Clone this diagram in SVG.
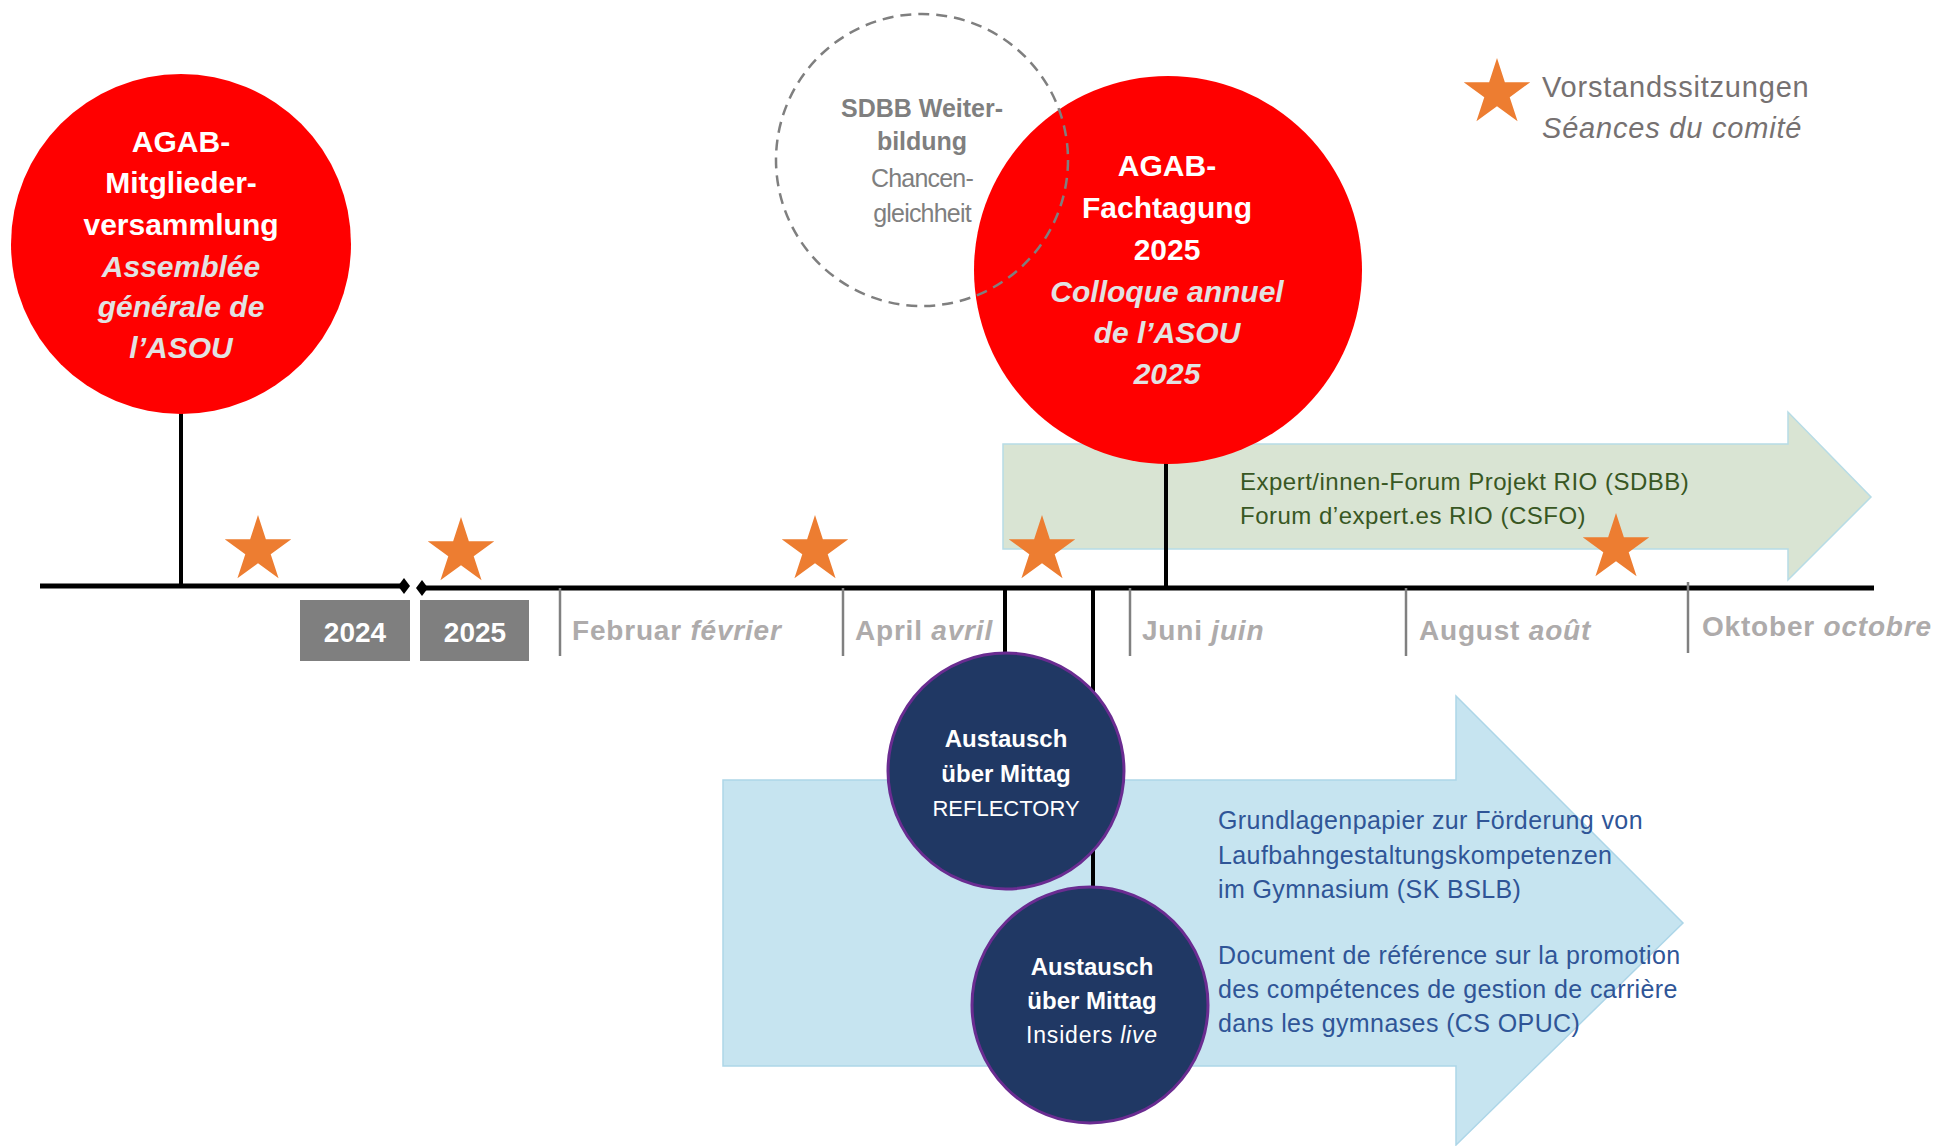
<svg xmlns="http://www.w3.org/2000/svg" width="1943" height="1146" viewBox="0 0 1943 1146">
<style>
text{font-family:"Liberation Sans",Arial,sans-serif}
.red{fill:#FF0000}
.wb{fill:#FFFFFF;font-weight:bold;font-size:30px;text-anchor:middle}
.wi{fill:#E2E2E2;font-weight:bold;font-style:italic;font-size:30px;text-anchor:middle}
.navy{fill:#203864;stroke:#6A2C91;stroke-width:3}
.nb{fill:#FFFFFF;font-weight:bold;font-size:24px;text-anchor:middle}
.nr{fill:#FFFFFF;font-size:22px;text-anchor:middle}
.stem{stroke:#000000;stroke-width:4;fill:none}
.tick{stroke:#808080;stroke-width:2.5}
.month{fill:#AEABAB;font-weight:bold;font-size:28px;letter-spacing:0.8px}
.year{fill:#7F7F7F}
.yt{fill:#FFFFFF;font-weight:bold;font-size:28px;text-anchor:middle}
.star{fill:#ED7D31}
.green{fill:#D9E4D3;stroke:#B7DCE6;stroke-width:1.5}
.gt{fill:#385723;font-size:24px;letter-spacing:0.5px}
.blue{fill:#C6E4F0;stroke:#ADD6E8;stroke-width:1.5}
.bt{fill:#2F5597;font-size:25px;letter-spacing:0.4px}
.leg{fill:#767171;font-size:29px;letter-spacing:0.8px}
.sd{fill:#7F7F7F;font-weight:bold;font-size:25px;text-anchor:middle}
.sl{fill:#7F7F7F;font-size:25px;text-anchor:middle;letter-spacing:-0.8px}
</style>
<defs>
<path id="star" d="M0,-35 L7.87,-10.83 L33.29,-10.82 L12.72,4.14 L20.57,28.32 L0,13.37 L-20.57,28.32 L-12.72,4.14 L-33.29,-10.82 L-7.87,-10.83 Z"/>
</defs>

<!-- arrows (background bands) -->
<g id="rio-arrow">
<polygon class="green" points="1003,444 1788,444 1788,412 1871,497 1788,580 1788,549 1003,549"/>
<text class="gt" x="1240" y="490">Expert/innen-Forum Projekt RIO (SDBB)</text>
<text class="gt" x="1240" y="524">Forum d’expert.es RIO (CSFO)</text>
</g>
<g id="bslb-arrow">
<polygon class="blue" points="723,780 1456,780 1456,696 1683,923 1456,1145 1456,1066 723,1066"/>
<text class="bt" x="1218" y="829">Grundlagenpapier zur Förderung von</text>
<text class="bt" x="1218" y="864">Laufbahngestaltungskompetenzen</text>
<text class="bt" x="1218" y="898">im Gymnasium (SK BSLB)</text>
<text class="bt" x="1218" y="964">Document de référence sur la promotion</text>
<text class="bt" x="1218" y="998">des compétences de gestion de carrière</text>
<text class="bt" x="1218" y="1032">dans les gymnases (CS OPUC)</text>
</g>

<!-- connectors: timeline, stems, ticks -->
<g id="connectors">
<line x1="40" y1="586" x2="404" y2="586" stroke="#000" stroke-width="5"/>
<line x1="422" y1="588" x2="1874" y2="588" stroke="#000" stroke-width="5"/>
<polygon points="404,578 410,586 404,594 398,586" fill="#000"/>
<polygon points="422,580 428,588 422,596 416,588" fill="#000"/>
<line class="stem" x1="181" y1="410" x2="181" y2="586"/>
<line class="stem" x1="1166" y1="460" x2="1166" y2="588"/>
<line class="stem" x1="1005" y1="588" x2="1005" y2="660"/>
<line class="stem" x1="1093" y1="588" x2="1093" y2="895"/>
<line class="tick" x1="560" y1="588" x2="560" y2="656"/>
<line class="tick" x1="843" y1="588" x2="843" y2="656"/>
<line class="tick" x1="1130" y1="588" x2="1130" y2="656"/>
<line class="tick" x1="1406" y1="588" x2="1406" y2="656"/>
<line class="tick" x1="1688" y1="582" x2="1688" y2="653"/>
</g>

<!-- year labels -->
<g id="year-2024">
<rect class="year" x="300" y="600" width="110" height="61"/>
<text class="yt" x="355" y="642">2024</text>
</g>
<g id="year-2025">
<rect class="year" x="420" y="600" width="109" height="61"/>
<text class="yt" x="475" y="642">2025</text>
</g>

<!-- month labels -->
<g id="months">
<text class="month" x="572" y="640">Februar <tspan font-style="italic">février</tspan></text>
<text class="month" x="855" y="640">April <tspan font-style="italic">avril</tspan></text>
<text class="month" x="1142" y="640">Juni <tspan font-style="italic">juin</tspan></text>
<text class="month" x="1419" y="640">August <tspan font-style="italic">août</tspan></text>
<text class="month" x="1702" y="636">Oktober <tspan font-style="italic">octobre</tspan></text>
</g>

<!-- Mitgliederversammlung -->
<g id="agab-mv">
<circle class="red" cx="181" cy="244" r="170"/>
<text class="wb" x="181" y="152">AGAB-</text>
<text class="wb" x="181" y="193">Mitglieder-</text>
<text class="wb" x="181" y="235">versammlung</text>
<text class="wi" x="181" y="277">Assemblée</text>
<text class="wi" x="181" y="317">générale de</text>
<text class="wi" x="181" y="358">l’ASOU</text>
</g>

<!-- Fachtagung -->
<g id="agab-fachtagung">
<circle class="red" cx="1168" cy="270" r="194"/>
<text class="wb" x="1167" y="176">AGAB-</text>
<text class="wb" x="1167" y="218">Fachtagung</text>
<text class="wb" x="1167" y="260">2025</text>
<text class="wi" x="1167" y="302">Colloque annuel</text>
<text class="wi" x="1167" y="343">de l’ASOU</text>
<text class="wi" x="1167" y="384">2025</text>
</g>

<!-- SDBB Weiterbildung -->
<g id="sdbb">
<circle cx="922" cy="160" r="146" fill="none" stroke="#7F7F7F" stroke-width="2.5" stroke-dasharray="11 7"/>
<text class="sd" x="922" y="117">SDBB Weiter-</text>
<text class="sd" x="922" y="150">bildung</text>
<text class="sl" x="922" y="187">Chancen-</text>
<text class="sl" x="922" y="222">gleichheit</text>
</g>

<!-- Austausch über Mittag -->
<g id="reflectory">
<circle class="navy" cx="1006" cy="771" r="118"/>
<text class="nb" x="1006" y="747">Austausch</text>
<text class="nb" x="1006" y="782">über Mittag</text>
<text class="nr" x="1006" y="816">REFLECTORY</text>
</g>
<g id="insiders">
<circle class="navy" cx="1090" cy="1005" r="118"/>
<text class="nb" x="1092" y="975">Austausch</text>
<text class="nb" x="1092" y="1009">über Mittag</text>
<text class="nr" x="1092" y="1043" style="font-size:23px;letter-spacing:0.8px">Insiders <tspan font-style="italic">live</tspan></text>
</g>

<!-- Vorstandssitzungen -->
<g id="stars">
<use href="#star" class="star" x="258" y="550"/>
<use href="#star" class="star" x="461" y="552"/>
<use href="#star" class="star" x="815" y="550"/>
<use href="#star" class="star" x="1042" y="550"/>
<use href="#star" class="star" x="1616" y="548"/>
</g>

<!-- legend -->
<g id="legend">
<use href="#star" class="star" x="1497" y="93"/>
<text class="leg" x="1542" y="97">Vorstandssitzungen</text>
<text class="leg" x="1542" y="138" font-style="italic">Séances du comité</text>
</g>
</svg>
